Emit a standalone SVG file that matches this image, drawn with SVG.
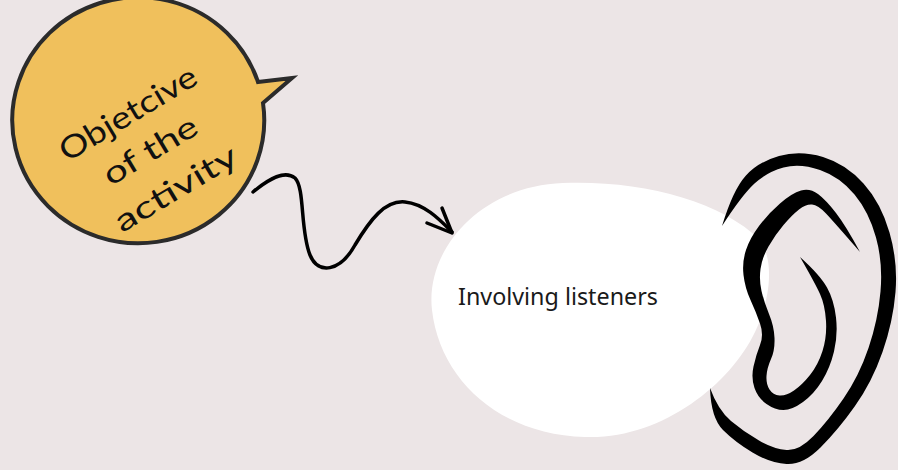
<svg xmlns="http://www.w3.org/2000/svg" width="898" height="470" viewBox="0 0 898 470">
  <style>
    .hand { font-family: "Lato", "DejaVu Sans", sans-serif; font-weight: 400; font-size: 31px; fill: #111; text-anchor: middle; }
    .label { font-family: "Noto Sans", "Open Sans", sans-serif; font-size: 23px; fill: #1a1a1a; }
    .ink { fill: #000; }
    .connector { fill: none; stroke: #000; stroke-width: 3.5; stroke-linecap: round; stroke-linejoin: round; }
  </style>
  <rect width="898" height="470" fill="#ece5e6"/>

  <!-- speech bubble -->
  <g id="objective">
    <path d="M258,82 L292,78 L263,103 A126,123 0 1 1 258,82 Z" fill="#f0c05c" stroke="#2b2b2b" stroke-width="4" stroke-linejoin="miter"/>
    <g transform="translate(150,150) rotate(-31)">
      <text class="hand" x="0" y="-32" textLength="155" lengthAdjust="spacingAndGlyphs">Objetcive</text>
      <text class="hand" x="0" y="11" textLength="105" lengthAdjust="spacingAndGlyphs">of the</text>
      <text class="hand" x="2" y="57" textLength="138" lengthAdjust="spacingAndGlyphs">activity</text>
    </g>
  </g>

  <!-- white blob -->
  <g id="listeners">
    <path d="M563,183 C640,180 720,200 760,240 C775,262 770,300 755,332 C730,385 660,440 585,437 C500,435 440,380 432,310 C425,250 480,186 563,183 Z" fill="#ffffff"/>
    <text class="label" x="458" y="305" textLength="200" lengthAdjust="spacingAndGlyphs">Involving listeners</text>
  </g>

  <!-- ear -->
  <g id="ear">
    <path class="ink" d="M722,226 Q733,190 745.5,176 Q758,162 779,156 Q800,150 823,157 Q846,164 863.5,183.5 Q881,203 889.5,232.5 Q898,262 895.5,292 Q893,322 882.5,352 Q872,382 855,406 Q838,430 820.5,447.5 Q803,465 786.5,464 Q770,463 752.5,452.5 Q735,442 723,430 Q711,418 710,388 Q718,410 731,421 Q744,432 759,440.5 Q774,449 786.5,450 Q799,451 813.5,436 Q828,421 843.5,398.5 Q859,376 868.5,348 Q878,320 880.5,291.5 Q883,263 876,237.5 Q869,212 854.5,194.5 Q840,177 820,170 Q800,163 783.5,167.5 Q767,172 754.5,183.5 Q742,195 722,226 Z"/>
    <path class="ink" d="M860,252 Q846,226 836,213 Q826,200 818,194 Q810,188 801,190.5 Q792,193 780,203.5 Q768,214 759,226 Q750,238 746,250 Q742,262 743.5,275 Q745,288 750.5,300 Q756,312 760,323.5 Q764,335 760,345 Q756,355 753.5,366.5 Q751,378 754.5,388 Q758,398 766.5,404 Q775,410 783.5,410 Q792,410 803,402 Q814,394 822,381 Q830,368 834,351.5 Q838,335 836,317.5 Q834,300 827,287.5 Q820,275 800,257 Q815,283 820,294 Q825,305 826,321 Q827,337 822.5,351 Q818,365 810,375 Q802,385 794,390.5 Q786,396 779.5,395.5 Q773,395 769.5,389.5 Q766,384 766.5,376 Q767,368 771,359 Q775,350 774.5,338 Q774,326 769,314 Q764,302 761.5,291 Q759,280 760.5,269 Q762,258 768.5,246.5 Q775,235 783.5,225 Q792,215 799,209.5 Q806,204 812,204.5 Q818,205 826,213.5 Q834,222 860,252 Z"/>
  </g>

  <!-- connector -->
  <g id="connectors">
    <path class="connector" d="M253,192 C270,178 285,170 295,178 C305,188 300,230 310,255 C318,275 340,272 355,245 C370,220 385,200 405,202 C425,204 440,220 452,232"/>
    <path class="connector" d="M427,223 L452,233 L442,208"/>
  </g>
</svg>
